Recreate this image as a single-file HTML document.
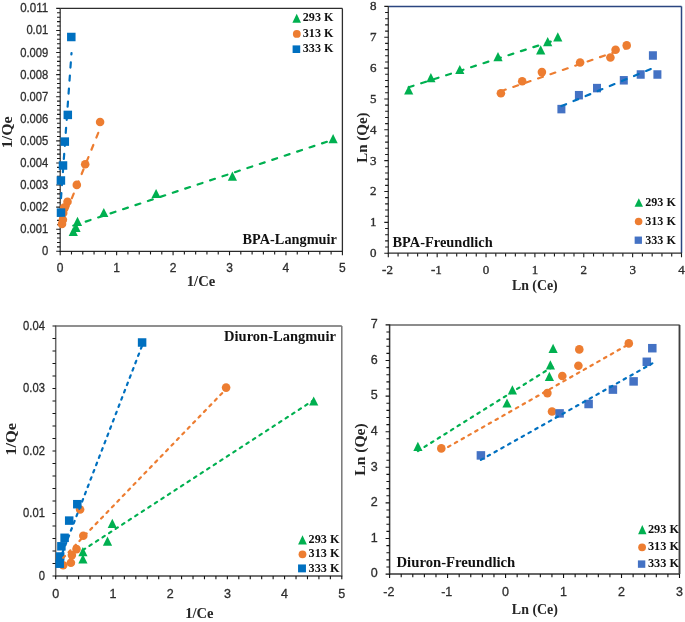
<!DOCTYPE html>
<html><head><meta charset="utf-8"><title>Isotherms</title>
<style>html,body{margin:0;padding:0;background:#fff;}svg{display:block;will-change:transform;}</style>
</head><body>
<svg width="685" height="622" viewBox="0 0 685 622">
<rect width="685" height="622" fill="#fff"/>
<line x1="60.2" y1="8.4" x2="342.4" y2="8.4" stroke="#2d2d2d" stroke-width="1.3"/>
<line x1="342.4" y1="8.4" x2="342.4" y2="251.3" stroke="#2d2d2d" stroke-width="1.3"/>
<line x1="60.2" y1="7.9" x2="60.2" y2="251.8" stroke="#3c3c3c" stroke-width="1.3"/>
<line x1="59.7" y1="251.3" x2="342.9" y2="251.3" stroke="#2a2a2a" stroke-width="1.3"/>
<path d="M60.2 251.3V254.5M71.49 251.3V254.5M82.78 251.3V254.5M94.06 251.3V254.5M105.35 251.3V254.5M116.64 251.3V254.5M127.93 251.3V254.5M139.22 251.3V254.5M150.5 251.3V254.5M161.79 251.3V254.5M173.08 251.3V254.5M184.37 251.3V254.5M195.66 251.3V254.5M206.94 251.3V254.5M218.23 251.3V254.5M229.52 251.3V254.5M240.81 251.3V254.5M252.1 251.3V254.5M263.38 251.3V254.5M274.67 251.3V254.5M285.96 251.3V254.5M297.25 251.3V254.5M308.54 251.3V254.5M319.82 251.3V254.5M331.11 251.3V254.5M342.4 251.3V254.5M60.2 251.3V255.3M116.64 251.3V255.3M173.08 251.3V255.3M229.52 251.3V255.3M285.96 251.3V255.3M342.4 251.3V255.3M60.2 251.3H57M60.2 246.88H57M60.2 242.47H57M60.2 238.05H57M60.2 233.63H57M60.2 229.22H57M60.2 224.8H57M60.2 220.39H57M60.2 215.97H57M60.2 211.55H57M60.2 207.14H57M60.2 202.72H57M60.2 198.3H57M60.2 193.89H57M60.2 189.47H57M60.2 185.05H57M60.2 180.64H57M60.2 176.22H57M60.2 171.81H57M60.2 167.39H57M60.2 162.97H57M60.2 158.56H57M60.2 154.14H57M60.2 149.72H57M60.2 145.31H57M60.2 140.89H57M60.2 136.47H57M60.2 132.06H57M60.2 127.64H57M60.2 123.23H57M60.2 118.81H57M60.2 114.39H57M60.2 109.98H57M60.2 105.56H57M60.2 101.14H57M60.2 96.73H57M60.2 92.31H57M60.2 87.89H57M60.2 83.48H57M60.2 79.06H57M60.2 74.65H57M60.2 70.23H57M60.2 65.81H57M60.2 61.4H57M60.2 56.98H57M60.2 52.56H57M60.2 48.15H57M60.2 43.73H57M60.2 39.31H57M60.2 34.9H57M60.2 30.48H57M60.2 26.07H57M60.2 21.65H57M60.2 17.23H57M60.2 12.82H57M60.2 8.4H57M60.2 251.3H56.2M60.2 229.22H56.2M60.2 207.14H56.2M60.2 185.05H56.2M60.2 162.97H56.2M60.2 140.89H56.2M60.2 118.81H56.2M60.2 96.73H56.2M60.2 74.65H56.2M60.2 52.56H56.2M60.2 30.48H56.2M60.2 8.4H56.2" stroke="#1a1a1a" stroke-width="1.1" fill="none"/>
<text x="48.2" y="255.3" font-family='"Liberation Sans", sans-serif' font-size="12.3" text-anchor="end" fill="#2e2e2e" textLength="6.24" lengthAdjust="spacingAndGlyphs" stroke="#2e2e2e" stroke-width="0.3">0</text>
<text x="48.2" y="233.22" font-family='"Liberation Sans", sans-serif' font-size="12.3" text-anchor="end" fill="#2e2e2e" textLength="28.04" lengthAdjust="spacingAndGlyphs" stroke="#2e2e2e" stroke-width="0.3">0.001</text>
<text x="48.2" y="211.14" font-family='"Liberation Sans", sans-serif' font-size="12.3" text-anchor="end" fill="#2e2e2e" textLength="28.04" lengthAdjust="spacingAndGlyphs" stroke="#2e2e2e" stroke-width="0.3">0.002</text>
<text x="48.2" y="189.05" font-family='"Liberation Sans", sans-serif' font-size="12.3" text-anchor="end" fill="#2e2e2e" textLength="28.04" lengthAdjust="spacingAndGlyphs" stroke="#2e2e2e" stroke-width="0.3">0.003</text>
<text x="48.2" y="166.97" font-family='"Liberation Sans", sans-serif' font-size="12.3" text-anchor="end" fill="#2e2e2e" textLength="28.04" lengthAdjust="spacingAndGlyphs" stroke="#2e2e2e" stroke-width="0.3">0.004</text>
<text x="48.2" y="144.89" font-family='"Liberation Sans", sans-serif' font-size="12.3" text-anchor="end" fill="#2e2e2e" textLength="28.04" lengthAdjust="spacingAndGlyphs" stroke="#2e2e2e" stroke-width="0.3">0.005</text>
<text x="48.2" y="122.81" font-family='"Liberation Sans", sans-serif' font-size="12.3" text-anchor="end" fill="#2e2e2e" textLength="28.04" lengthAdjust="spacingAndGlyphs" stroke="#2e2e2e" stroke-width="0.3">0.006</text>
<text x="48.2" y="100.73" font-family='"Liberation Sans", sans-serif' font-size="12.3" text-anchor="end" fill="#2e2e2e" textLength="28.04" lengthAdjust="spacingAndGlyphs" stroke="#2e2e2e" stroke-width="0.3">0.007</text>
<text x="48.2" y="78.65" font-family='"Liberation Sans", sans-serif' font-size="12.3" text-anchor="end" fill="#2e2e2e" textLength="28.04" lengthAdjust="spacingAndGlyphs" stroke="#2e2e2e" stroke-width="0.3">0.008</text>
<text x="48.2" y="56.56" font-family='"Liberation Sans", sans-serif' font-size="12.3" text-anchor="end" fill="#2e2e2e" textLength="28.04" lengthAdjust="spacingAndGlyphs" stroke="#2e2e2e" stroke-width="0.3">0.009</text>
<text x="48.2" y="34.48" font-family='"Liberation Sans", sans-serif' font-size="12.3" text-anchor="end" fill="#2e2e2e" textLength="21.81" lengthAdjust="spacingAndGlyphs" stroke="#2e2e2e" stroke-width="0.3">0.01</text>
<text x="48.2" y="12.4" font-family='"Liberation Sans", sans-serif' font-size="12.3" text-anchor="end" fill="#2e2e2e" textLength="28.04" lengthAdjust="spacingAndGlyphs" stroke="#2e2e2e" stroke-width="0.3">0.011</text>
<text x="60.2" y="272.2" font-family='"Liberation Sans", sans-serif' font-size="12" text-anchor="middle" fill="#2e2e2e" stroke="#2e2e2e" stroke-width="0.3">0</text>
<text x="116.64" y="272.2" font-family='"Liberation Sans", sans-serif' font-size="12" text-anchor="middle" fill="#2e2e2e" stroke="#2e2e2e" stroke-width="0.3">1</text>
<text x="173.08" y="272.2" font-family='"Liberation Sans", sans-serif' font-size="12" text-anchor="middle" fill="#2e2e2e" stroke="#2e2e2e" stroke-width="0.3">2</text>
<text x="229.52" y="272.2" font-family='"Liberation Sans", sans-serif' font-size="12" text-anchor="middle" fill="#2e2e2e" stroke="#2e2e2e" stroke-width="0.3">3</text>
<text x="285.96" y="272.2" font-family='"Liberation Sans", sans-serif' font-size="12" text-anchor="middle" fill="#2e2e2e" stroke="#2e2e2e" stroke-width="0.3">4</text>
<text x="342.4" y="272.2" font-family='"Liberation Sans", sans-serif' font-size="12" text-anchor="middle" fill="#2e2e2e" stroke="#2e2e2e" stroke-width="0.3">5</text>
<text x="201" y="286" font-family='"Liberation Serif", serif' font-size="14" font-weight="bold" text-anchor="middle" fill="#262626" textLength="28.4" lengthAdjust="spacingAndGlyphs">1/Ce</text>
<text x="11.8" y="132.3" font-family='"Liberation Serif", serif' font-size="14" font-weight="bold" text-anchor="middle" fill="#262626" textLength="31.8" lengthAdjust="spacingAndGlyphs" transform="rotate(-90 11.8 132.3)">1/Qe</text>
<path d="M73.3 226.7L77.9 235.9L68.7 235.9Z" fill="#00B050"/>
<path d="M76 222.7L80.6 231.9L71.4 231.9Z" fill="#00B050"/>
<path d="M77.5 216.8L82.1 226L72.9 226Z" fill="#00B050"/>
<path d="M103.8 207.9L108.4 217.1L99.2 217.1Z" fill="#00B050"/>
<path d="M156.1 188.9L160.7 198.1L151.5 198.1Z" fill="#00B050"/>
<path d="M232.4 171.5L237 180.7L227.8 180.7Z" fill="#00B050"/>
<path d="M333.1 134.1L337.7 143.3L328.5 143.3Z" fill="#00B050"/>
<circle cx="100.1" cy="122" r="4.3" fill="#ED7D31"/>
<circle cx="85.2" cy="164.2" r="4.3" fill="#ED7D31"/>
<circle cx="76.8" cy="184.9" r="4.3" fill="#ED7D31"/>
<circle cx="67.5" cy="201.7" r="4.3" fill="#ED7D31"/>
<circle cx="64.2" cy="207.5" r="4.3" fill="#ED7D31"/>
<circle cx="63.2" cy="213" r="4.3" fill="#ED7D31"/>
<circle cx="62.9" cy="219.7" r="4.3" fill="#ED7D31"/>
<circle cx="62" cy="223.9" r="4.3" fill="#ED7D31"/>
<rect x="67.05" y="32.75" width="8.5" height="8.5" fill="#0070C0"/>
<rect x="63.55" y="110.65" width="8.5" height="8.5" fill="#0070C0"/>
<rect x="60.55" y="137.35" width="8.5" height="8.5" fill="#0070C0"/>
<rect x="58.75" y="161.25" width="8.5" height="8.5" fill="#0070C0"/>
<rect x="56.65" y="176.25" width="8.5" height="8.5" fill="#0070C0"/>
<rect x="56.75" y="208.35" width="8.5" height="8.5" fill="#0070C0"/>
<line x1="73.3" y1="225.7" x2="333.1" y2="139.7" stroke="#00B050" stroke-width="2.2" stroke-dasharray="5.1 8.0" stroke-linecap="round"/>
<line x1="62" y1="222.6" x2="100.1" y2="128.3" stroke="#ED7D31" stroke-width="2.2" stroke-dasharray="5.1 8.0" stroke-linecap="round"/>
<line x1="61" y1="198.2" x2="71.5" y2="53" stroke="#0070C0" stroke-width="2.2" stroke-dasharray="5.1 8.0" stroke-linecap="round"/>
<path d="M296.7 13.7L301 22.7L292.4 22.7Z" fill="#00B050"/>
<circle cx="296.8" cy="33.9" r="3.9" fill="#ED7D31"/>
<rect x="292.6" y="45.4" width="7.6" height="7.6" fill="#0070C0"/>
<text x="302.8" y="21.4" font-family='"Liberation Serif", serif' font-size="12.6" font-weight="bold" fill="#111" textLength="30.6" lengthAdjust="spacingAndGlyphs">293 K</text>
<text x="302.8" y="36.9" font-family='"Liberation Serif", serif' font-size="12.6" font-weight="bold" fill="#111" textLength="30.6" lengthAdjust="spacingAndGlyphs">313 K</text>
<text x="302.8" y="52.4" font-family='"Liberation Serif", serif' font-size="12.6" font-weight="bold" fill="#111" textLength="30.6" lengthAdjust="spacingAndGlyphs">333 K</text>
<text x="242.6" y="244.1" font-family='"Liberation Serif", serif' font-size="14.3" font-weight="bold" fill="#111" textLength="94.2" lengthAdjust="spacingAndGlyphs">BPA-Langmuir</text>
<line x1="388.3" y1="6.4" x2="681.5" y2="6.4" stroke="#2B4580" stroke-width="1.5"/>
<line x1="681.5" y1="6.4" x2="681.5" y2="253.2" stroke="#2B4580" stroke-width="1.5"/>
<line x1="388.3" y1="5.9" x2="388.3" y2="253.7" stroke="#3c3c3c" stroke-width="1.3"/>
<line x1="387.8" y1="253.2" x2="682" y2="253.2" stroke="#2a2a2a" stroke-width="1.3"/>
<path d="M388.3 253.2V256.4M398.07 253.2V256.4M407.85 253.2V256.4M417.62 253.2V256.4M427.39 253.2V256.4M437.17 253.2V256.4M446.94 253.2V256.4M456.71 253.2V256.4M466.49 253.2V256.4M476.26 253.2V256.4M486.03 253.2V256.4M495.81 253.2V256.4M505.58 253.2V256.4M515.35 253.2V256.4M525.13 253.2V256.4M534.9 253.2V256.4M544.67 253.2V256.4M554.45 253.2V256.4M564.22 253.2V256.4M573.99 253.2V256.4M583.77 253.2V256.4M593.54 253.2V256.4M603.31 253.2V256.4M613.09 253.2V256.4M622.86 253.2V256.4M632.63 253.2V256.4M642.41 253.2V256.4M652.18 253.2V256.4M661.95 253.2V256.4M671.73 253.2V256.4M681.5 253.2V256.4M388.3 253.2V257.2M437.17 253.2V257.2M486.03 253.2V257.2M534.9 253.2V257.2M583.77 253.2V257.2M632.63 253.2V257.2M681.5 253.2V257.2M388.3 253.2H385.1M388.3 247.03H385.1M388.3 240.86H385.1M388.3 234.69H385.1M388.3 228.52H385.1M388.3 222.35H385.1M388.3 216.18H385.1M388.3 210.01H385.1M388.3 203.84H385.1M388.3 197.67H385.1M388.3 191.5H385.1M388.3 185.33H385.1M388.3 179.16H385.1M388.3 172.99H385.1M388.3 166.82H385.1M388.3 160.65H385.1M388.3 154.48H385.1M388.3 148.31H385.1M388.3 142.14H385.1M388.3 135.97H385.1M388.3 129.8H385.1M388.3 123.63H385.1M388.3 117.46H385.1M388.3 111.29H385.1M388.3 105.12H385.1M388.3 98.95H385.1M388.3 92.78H385.1M388.3 86.61H385.1M388.3 80.44H385.1M388.3 74.27H385.1M388.3 68.1H385.1M388.3 61.93H385.1M388.3 55.76H385.1M388.3 49.59H385.1M388.3 43.42H385.1M388.3 37.25H385.1M388.3 31.08H385.1M388.3 24.91H385.1M388.3 18.74H385.1M388.3 12.57H385.1M388.3 6.4H385.1M388.3 253.2H384.3M388.3 222.35H384.3M388.3 191.5H384.3M388.3 160.65H384.3M388.3 129.8H384.3M388.3 98.95H384.3M388.3 68.1H384.3M388.3 37.25H384.3M388.3 6.4H384.3" stroke="#1a1a1a" stroke-width="1.1" fill="none"/>
<text x="376.6" y="257.1" font-family='"Liberation Serif", serif' font-size="13" text-anchor="end" fill="#2e2e2e" stroke="#2e2e2e" stroke-width="0.35">0</text>
<text x="376.6" y="226.25" font-family='"Liberation Serif", serif' font-size="13" text-anchor="end" fill="#2e2e2e" stroke="#2e2e2e" stroke-width="0.35">1</text>
<text x="376.6" y="195.4" font-family='"Liberation Serif", serif' font-size="13" text-anchor="end" fill="#2e2e2e" stroke="#2e2e2e" stroke-width="0.35">2</text>
<text x="376.6" y="164.55" font-family='"Liberation Serif", serif' font-size="13" text-anchor="end" fill="#2e2e2e" stroke="#2e2e2e" stroke-width="0.35">3</text>
<text x="376.6" y="133.7" font-family='"Liberation Serif", serif' font-size="13" text-anchor="end" fill="#2e2e2e" stroke="#2e2e2e" stroke-width="0.35">4</text>
<text x="376.6" y="102.85" font-family='"Liberation Serif", serif' font-size="13" text-anchor="end" fill="#2e2e2e" stroke="#2e2e2e" stroke-width="0.35">5</text>
<text x="376.6" y="72" font-family='"Liberation Serif", serif' font-size="13" text-anchor="end" fill="#2e2e2e" stroke="#2e2e2e" stroke-width="0.35">6</text>
<text x="376.6" y="41.15" font-family='"Liberation Serif", serif' font-size="13" text-anchor="end" fill="#2e2e2e" stroke="#2e2e2e" stroke-width="0.35">7</text>
<text x="376.6" y="10.3" font-family='"Liberation Serif", serif' font-size="13" text-anchor="end" fill="#2e2e2e" stroke="#2e2e2e" stroke-width="0.35">8</text>
<text x="387.5" y="274.4" font-family='"Liberation Serif", serif' font-size="13" text-anchor="middle" fill="#2e2e2e" stroke="#2e2e2e" stroke-width="0.35">-2</text>
<text x="436.37" y="274.4" font-family='"Liberation Serif", serif' font-size="13" text-anchor="middle" fill="#2e2e2e" stroke="#2e2e2e" stroke-width="0.35">-1</text>
<text x="486.03" y="274.4" font-family='"Liberation Serif", serif' font-size="13" text-anchor="middle" fill="#2e2e2e" stroke="#2e2e2e" stroke-width="0.35">0</text>
<text x="534.9" y="274.4" font-family='"Liberation Serif", serif' font-size="13" text-anchor="middle" fill="#2e2e2e" stroke="#2e2e2e" stroke-width="0.35">1</text>
<text x="583.77" y="274.4" font-family='"Liberation Serif", serif' font-size="13" text-anchor="middle" fill="#2e2e2e" stroke="#2e2e2e" stroke-width="0.35">2</text>
<text x="632.63" y="274.4" font-family='"Liberation Serif", serif' font-size="13" text-anchor="middle" fill="#2e2e2e" stroke="#2e2e2e" stroke-width="0.35">3</text>
<text x="681.5" y="274.4" font-family='"Liberation Serif", serif' font-size="13" text-anchor="middle" fill="#2e2e2e" stroke="#2e2e2e" stroke-width="0.35">4</text>
<text x="534.8" y="290" font-family='"Liberation Serif", serif' font-size="14" font-weight="bold" text-anchor="middle" fill="#262626" textLength="45.8" lengthAdjust="spacingAndGlyphs">Ln (Ce)</text>
<text x="366.7" y="137.6" font-family='"Liberation Serif", serif' font-size="14" font-weight="bold" text-anchor="middle" fill="#262626" textLength="50.2" lengthAdjust="spacingAndGlyphs" transform="rotate(-90 366.7 137.6)">Ln (Qe)</text>
<path d="M408.7 85.4L413.3 94.6L404.1 94.6Z" fill="#00B050"/>
<path d="M430.9 73L435.5 82.2L426.3 82.2Z" fill="#00B050"/>
<path d="M459.8 64.9L464.4 74.1L455.2 74.1Z" fill="#00B050"/>
<path d="M498 52L502.6 61.2L493.4 61.2Z" fill="#00B050"/>
<path d="M540.7 45.2L545.3 54.4L536.1 54.4Z" fill="#00B050"/>
<path d="M547.7 37.1L552.3 46.3L543.1 46.3Z" fill="#00B050"/>
<path d="M557.8 32.2L562.4 41.4L553.2 41.4Z" fill="#00B050"/>
<circle cx="500.9" cy="93.2" r="4.3" fill="#ED7D31"/>
<circle cx="522.2" cy="81.3" r="4.3" fill="#ED7D31"/>
<circle cx="541.9" cy="72.1" r="4.3" fill="#ED7D31"/>
<circle cx="580.1" cy="62.5" r="4.3" fill="#ED7D31"/>
<circle cx="610.4" cy="57.5" r="4.3" fill="#ED7D31"/>
<circle cx="615.6" cy="49.8" r="4.3" fill="#ED7D31"/>
<circle cx="626.7" cy="45.4" r="4.3" fill="#ED7D31"/>
<rect x="557.4" y="104.85" width="8" height="8.5" fill="#4472C4"/>
<rect x="574.9" y="90.95" width="8" height="8.5" fill="#4472C4"/>
<rect x="593" y="83.85" width="8" height="8.5" fill="#4472C4"/>
<rect x="619.8" y="76.05" width="8" height="8.5" fill="#4472C4"/>
<rect x="636.7" y="70.25" width="8" height="8.5" fill="#4472C4"/>
<rect x="648.9" y="51.25" width="8" height="8.5" fill="#4472C4"/>
<rect x="653.4" y="70.25" width="8" height="8.5" fill="#4472C4"/>
<line x1="408.7" y1="87.3" x2="557.8" y2="39.3" stroke="#00B050" stroke-width="2.2" stroke-dasharray="5.1 8.0" stroke-linecap="round"/>
<line x1="500.9" y1="91.2" x2="626.7" y2="48" stroke="#ED7D31" stroke-width="2.2" stroke-dasharray="5.1 8.0" stroke-linecap="round"/>
<line x1="561.4" y1="106.1" x2="657.4" y2="66.3" stroke="#0070C0" stroke-width="2.2" stroke-dasharray="5.1 8.0" stroke-linecap="round"/>
<path d="M638.8 198.35L643 206.85L634.6 206.85Z" fill="#00B050"/>
<circle cx="638.6" cy="221.5" r="3.8" fill="#ED7D31"/>
<rect x="634.65" y="236.55" width="7.3" height="7.3" fill="#4472C4"/>
<text x="645.2" y="206.1" font-family='"Liberation Serif", serif' font-size="12.6" font-weight="bold" fill="#111" textLength="30.7" lengthAdjust="spacingAndGlyphs">293 K</text>
<text x="645.2" y="224.9" font-family='"Liberation Serif", serif' font-size="12.6" font-weight="bold" fill="#111" textLength="30.7" lengthAdjust="spacingAndGlyphs">313 K</text>
<text x="645.2" y="243.7" font-family='"Liberation Serif", serif' font-size="12.6" font-weight="bold" fill="#111" textLength="30.7" lengthAdjust="spacingAndGlyphs">333 K</text>
<text x="392.5" y="246.9" font-family='"Liberation Serif", serif' font-size="14" font-weight="bold" fill="#111" textLength="100.2" lengthAdjust="spacingAndGlyphs">BPA-Freundlich</text>
<line x1="55.7" y1="326" x2="341.8" y2="326" stroke="#6a6a6a" stroke-width="1.5"/>
<line x1="341.8" y1="326" x2="341.8" y2="576" stroke="#777777" stroke-width="1.5"/>
<line x1="55.7" y1="325.5" x2="55.7" y2="576.5" stroke="#666666" stroke-width="1.5"/>
<line x1="55.2" y1="576" x2="342.3" y2="576" stroke="#444444" stroke-width="1.5"/>
<path d="M55.7 576V579.2M67.14 576V579.2M78.59 576V579.2M90.03 576V579.2M101.48 576V579.2M112.92 576V579.2M124.36 576V579.2M135.81 576V579.2M147.25 576V579.2M158.7 576V579.2M170.14 576V579.2M181.58 576V579.2M193.03 576V579.2M204.47 576V579.2M215.92 576V579.2M227.36 576V579.2M238.8 576V579.2M250.25 576V579.2M261.69 576V579.2M273.14 576V579.2M284.58 576V579.2M296.02 576V579.2M307.47 576V579.2M318.91 576V579.2M330.36 576V579.2M341.8 576V579.2M55.7 576V579.2M112.92 576V579.2M170.14 576V579.2M227.36 576V579.2M284.58 576V579.2M341.8 576V579.2M55.7 576H52.5M55.7 563.5H52.5M55.7 551H52.5M55.7 538.5H52.5M55.7 526H52.5M55.7 513.5H52.5M55.7 501H52.5M55.7 488.5H52.5M55.7 476H52.5M55.7 463.5H52.5M55.7 451H52.5M55.7 438.5H52.5M55.7 426H52.5M55.7 413.5H52.5M55.7 401H52.5M55.7 388.5H52.5M55.7 376H52.5M55.7 363.5H52.5M55.7 351H52.5M55.7 338.5H52.5M55.7 326H52.5M55.7 576H52.5M55.7 513.5H52.5M55.7 451H52.5M55.7 388.5H52.5M55.7 326H52.5" stroke="#111" stroke-width="1.1" fill="none"/>
<text x="44.9" y="579.9" font-family='"Liberation Sans", sans-serif' font-size="13.2" text-anchor="end" fill="#2a2a2a" textLength="6.24" lengthAdjust="spacingAndGlyphs" stroke="#2a2a2a" stroke-width="0.3">0</text>
<text x="44.9" y="517.4" font-family='"Liberation Sans", sans-serif' font-size="13.2" text-anchor="end" fill="#2a2a2a" textLength="21.81" lengthAdjust="spacingAndGlyphs" stroke="#2a2a2a" stroke-width="0.3">0.01</text>
<text x="44.9" y="454.9" font-family='"Liberation Sans", sans-serif' font-size="13.2" text-anchor="end" fill="#2a2a2a" textLength="21.81" lengthAdjust="spacingAndGlyphs" stroke="#2a2a2a" stroke-width="0.3">0.02</text>
<text x="44.9" y="392.4" font-family='"Liberation Sans", sans-serif' font-size="13.2" text-anchor="end" fill="#2a2a2a" textLength="21.81" lengthAdjust="spacingAndGlyphs" stroke="#2a2a2a" stroke-width="0.3">0.03</text>
<text x="44.9" y="329.9" font-family='"Liberation Sans", sans-serif' font-size="13.2" text-anchor="end" fill="#2a2a2a" textLength="21.81" lengthAdjust="spacingAndGlyphs" stroke="#2a2a2a" stroke-width="0.3">0.04</text>
<text x="55.7" y="598.2" font-family='"Liberation Sans", sans-serif' font-size="12.5" text-anchor="middle" fill="#2e2e2e" stroke="#2e2e2e" stroke-width="0.3">0</text>
<text x="112.92" y="598.2" font-family='"Liberation Sans", sans-serif' font-size="12.5" text-anchor="middle" fill="#2e2e2e" stroke="#2e2e2e" stroke-width="0.3">1</text>
<text x="170.14" y="598.2" font-family='"Liberation Sans", sans-serif' font-size="12.5" text-anchor="middle" fill="#2e2e2e" stroke="#2e2e2e" stroke-width="0.3">2</text>
<text x="227.36" y="598.2" font-family='"Liberation Sans", sans-serif' font-size="12.5" text-anchor="middle" fill="#2e2e2e" stroke="#2e2e2e" stroke-width="0.3">3</text>
<text x="284.58" y="598.2" font-family='"Liberation Sans", sans-serif' font-size="12.5" text-anchor="middle" fill="#2e2e2e" stroke="#2e2e2e" stroke-width="0.3">4</text>
<text x="341.8" y="598.2" font-family='"Liberation Sans", sans-serif' font-size="12.5" text-anchor="middle" fill="#2e2e2e" stroke="#2e2e2e" stroke-width="0.3">5</text>
<text x="199.3" y="617.7" font-family='"Liberation Serif", serif' font-size="14" font-weight="bold" text-anchor="middle" fill="#262626" textLength="28.3" lengthAdjust="spacingAndGlyphs">1/Ce</text>
<text x="15.6" y="439.3" font-family='"Liberation Serif", serif' font-size="14" font-weight="bold" text-anchor="middle" fill="#262626" textLength="32.6" lengthAdjust="spacingAndGlyphs" transform="rotate(-90 15.6 439.3)">1/Qe</text>
<path d="M82.9 547.1L87.5 556.3L78.3 556.3Z" fill="#00B050"/>
<path d="M82.9 554.2L87.5 563.4L78.3 563.4Z" fill="#00B050"/>
<path d="M107.5 536.6L112.1 545.8L102.9 545.8Z" fill="#00B050"/>
<path d="M112.3 518.8L116.9 528L107.7 528Z" fill="#00B050"/>
<path d="M313.7 396.4L318.3 405.6L309.1 405.6Z" fill="#00B050"/>
<circle cx="80.1" cy="509.5" r="4.3" fill="#ED7D31"/>
<circle cx="83.3" cy="535.8" r="4.3" fill="#ED7D31"/>
<circle cx="76.5" cy="549.1" r="4.3" fill="#ED7D31"/>
<circle cx="71.9" cy="555.1" r="4.3" fill="#ED7D31"/>
<circle cx="70.9" cy="562.8" r="4.3" fill="#ED7D31"/>
<circle cx="63.2" cy="565.2" r="4.3" fill="#ED7D31"/>
<circle cx="226.1" cy="387.6" r="4.3" fill="#ED7D31"/>
<rect x="137.85" y="338.25" width="8.5" height="8.5" fill="#0070C0"/>
<rect x="73.05" y="499.95" width="8.5" height="8.5" fill="#0070C0"/>
<rect x="64.95" y="516.35" width="8.5" height="8.5" fill="#0070C0"/>
<rect x="60.35" y="533.55" width="8.5" height="8.5" fill="#0070C0"/>
<rect x="57.15" y="542.05" width="8.5" height="8.5" fill="#0070C0"/>
<rect x="55.95" y="552.25" width="8.5" height="8.5" fill="#0070C0"/>
<rect x="55.45" y="559.45" width="8.5" height="8.5" fill="#0070C0"/>
<line x1="82.9" y1="550.1" x2="313.7" y2="400.1" stroke="#00B050" stroke-width="2.2" stroke-dasharray="2.6 5.2" stroke-linecap="round"/>
<line x1="63.2" y1="557.8" x2="226.1" y2="389" stroke="#ED7D31" stroke-width="2.2" stroke-dasharray="2.6 5.2" stroke-linecap="round"/>
<line x1="59.7" y1="559.8" x2="142.1" y2="345.6" stroke="#0070C0" stroke-width="2.2" stroke-dasharray="2.6 5.2" stroke-linecap="round"/>
<path d="M302.5 535.2L306.9 544.6L298.1 544.6Z" fill="#00B050"/>
<circle cx="302.5" cy="554.3" r="3.9" fill="#ED7D31"/>
<rect x="298.05" y="564.45" width="7.9" height="7.9" fill="#0070C0"/>
<text x="308.6" y="543" font-family='"Liberation Serif", serif' font-size="13.2" font-weight="bold" fill="#111" textLength="30.8" lengthAdjust="spacingAndGlyphs">293 K</text>
<text x="308.6" y="557.3" font-family='"Liberation Serif", serif' font-size="13.2" font-weight="bold" fill="#111" textLength="30.8" lengthAdjust="spacingAndGlyphs">313 K</text>
<text x="308.6" y="571.6" font-family='"Liberation Serif", serif' font-size="13.2" font-weight="bold" fill="#111" textLength="30.8" lengthAdjust="spacingAndGlyphs">333 K</text>
<text x="224.1" y="340.9" font-family='"Liberation Serif", serif' font-size="13.8" font-weight="bold" fill="#111" textLength="111.8" lengthAdjust="spacingAndGlyphs">Diuron-Langmuir</text>
<line x1="389.6" y1="324.9" x2="679.5" y2="324.9" stroke="#666666" stroke-width="1.5"/>
<line x1="679.5" y1="324.9" x2="679.5" y2="574.1" stroke="#404040" stroke-width="1.5"/>
<line x1="389.6" y1="324.4" x2="389.6" y2="574.6" stroke="#333333" stroke-width="1.5"/>
<line x1="389.1" y1="574.1" x2="680" y2="574.1" stroke="#333333" stroke-width="1.5"/>
<path d="M389.6 574.1V577.3M401.2 574.1V577.3M412.79 574.1V577.3M424.39 574.1V577.3M435.98 574.1V577.3M447.58 574.1V577.3M459.18 574.1V577.3M470.77 574.1V577.3M482.37 574.1V577.3M493.96 574.1V577.3M505.56 574.1V577.3M517.16 574.1V577.3M528.75 574.1V577.3M540.35 574.1V577.3M551.94 574.1V577.3M563.54 574.1V577.3M575.14 574.1V577.3M586.73 574.1V577.3M598.33 574.1V577.3M609.92 574.1V577.3M621.52 574.1V577.3M633.12 574.1V577.3M644.71 574.1V577.3M656.31 574.1V577.3M667.9 574.1V577.3M679.5 574.1V577.3M389.6 574.1V578.1M447.58 574.1V578.1M505.56 574.1V578.1M563.54 574.1V578.1M621.52 574.1V578.1M679.5 574.1V578.1M389.6 574.1H386.4M389.6 566.98H386.4M389.6 559.86H386.4M389.6 552.74H386.4M389.6 545.62H386.4M389.6 538.5H386.4M389.6 531.38H386.4M389.6 524.26H386.4M389.6 517.14H386.4M389.6 510.02H386.4M389.6 502.9H386.4M389.6 495.78H386.4M389.6 488.66H386.4M389.6 481.54H386.4M389.6 474.42H386.4M389.6 467.3H386.4M389.6 460.18H386.4M389.6 453.06H386.4M389.6 445.94H386.4M389.6 438.82H386.4M389.6 431.7H386.4M389.6 424.58H386.4M389.6 417.46H386.4M389.6 410.34H386.4M389.6 403.22H386.4M389.6 396.1H386.4M389.6 388.98H386.4M389.6 381.86H386.4M389.6 374.74H386.4M389.6 367.62H386.4M389.6 360.5H386.4M389.6 353.38H386.4M389.6 346.26H386.4M389.6 339.14H386.4M389.6 332.02H386.4M389.6 324.9H386.4M389.6 574.1H385.6M389.6 538.5H385.6M389.6 502.9H385.6M389.6 467.3H385.6M389.6 431.7H385.6M389.6 396.1H385.6M389.6 360.5H385.6M389.6 324.9H385.6" stroke="#111" stroke-width="1.1" fill="none"/>
<text x="377.6" y="577.3" font-family='"Liberation Sans", sans-serif' font-size="12.5" text-anchor="end" fill="#2e2e2e" stroke="#2e2e2e" stroke-width="0.3">0</text>
<text x="377.6" y="541.7" font-family='"Liberation Sans", sans-serif' font-size="12.5" text-anchor="end" fill="#2e2e2e" stroke="#2e2e2e" stroke-width="0.3">1</text>
<text x="377.6" y="506.1" font-family='"Liberation Sans", sans-serif' font-size="12.5" text-anchor="end" fill="#2e2e2e" stroke="#2e2e2e" stroke-width="0.3">2</text>
<text x="377.6" y="470.5" font-family='"Liberation Sans", sans-serif' font-size="12.5" text-anchor="end" fill="#2e2e2e" stroke="#2e2e2e" stroke-width="0.3">3</text>
<text x="377.6" y="434.9" font-family='"Liberation Sans", sans-serif' font-size="12.5" text-anchor="end" fill="#2e2e2e" stroke="#2e2e2e" stroke-width="0.3">4</text>
<text x="377.6" y="399.3" font-family='"Liberation Sans", sans-serif' font-size="12.5" text-anchor="end" fill="#2e2e2e" stroke="#2e2e2e" stroke-width="0.3">5</text>
<text x="377.6" y="363.7" font-family='"Liberation Sans", sans-serif' font-size="12.5" text-anchor="end" fill="#2e2e2e" stroke="#2e2e2e" stroke-width="0.3">6</text>
<text x="377.6" y="328.1" font-family='"Liberation Sans", sans-serif' font-size="12.5" text-anchor="end" fill="#2e2e2e" stroke="#2e2e2e" stroke-width="0.3">7</text>
<text x="388.8" y="596.3" font-family='"Liberation Sans", sans-serif' font-size="12.5" text-anchor="middle" fill="#2e2e2e" stroke="#2e2e2e" stroke-width="0.3">-2</text>
<text x="446.78" y="596.3" font-family='"Liberation Sans", sans-serif' font-size="12.5" text-anchor="middle" fill="#2e2e2e" stroke="#2e2e2e" stroke-width="0.3">-1</text>
<text x="505.56" y="596.3" font-family='"Liberation Sans", sans-serif' font-size="12.5" text-anchor="middle" fill="#2e2e2e" stroke="#2e2e2e" stroke-width="0.3">0</text>
<text x="563.54" y="596.3" font-family='"Liberation Sans", sans-serif' font-size="12.5" text-anchor="middle" fill="#2e2e2e" stroke="#2e2e2e" stroke-width="0.3">1</text>
<text x="621.52" y="596.3" font-family='"Liberation Sans", sans-serif' font-size="12.5" text-anchor="middle" fill="#2e2e2e" stroke="#2e2e2e" stroke-width="0.3">2</text>
<text x="679.5" y="596.3" font-family='"Liberation Sans", sans-serif' font-size="12.5" text-anchor="middle" fill="#2e2e2e" stroke="#2e2e2e" stroke-width="0.3">3</text>
<text x="534.9" y="613.6" font-family='"Liberation Serif", serif' font-size="14" font-weight="bold" text-anchor="middle" fill="#262626" textLength="46.1" lengthAdjust="spacingAndGlyphs">Ln (Ce)</text>
<text x="365.2" y="449.5" font-family='"Liberation Serif", serif' font-size="14" font-weight="bold" text-anchor="middle" fill="#262626" textLength="52.6" lengthAdjust="spacingAndGlyphs" transform="rotate(-90 365.2 449.5)">Ln (Qe)</text>
<path d="M417.9 441.7L422.5 450.9L413.3 450.9Z" fill="#00B050"/>
<path d="M507 398.4L511.6 407.6L502.4 407.6Z" fill="#00B050"/>
<path d="M512.4 385.3L517 394.5L507.8 394.5Z" fill="#00B050"/>
<path d="M549.4 371.8L554 381L544.8 381Z" fill="#00B050"/>
<path d="M550.4 360.3L555 369.5L545.8 369.5Z" fill="#00B050"/>
<path d="M553.1 343.8L557.7 353L548.5 353Z" fill="#00B050"/>
<circle cx="441.3" cy="448.4" r="4.3" fill="#ED7D31"/>
<circle cx="547.4" cy="393.1" r="4.3" fill="#ED7D31"/>
<circle cx="552" cy="411.5" r="4.3" fill="#ED7D31"/>
<circle cx="562.3" cy="376" r="4.3" fill="#ED7D31"/>
<circle cx="578.4" cy="365.8" r="4.3" fill="#ED7D31"/>
<circle cx="579.3" cy="349.4" r="4.3" fill="#ED7D31"/>
<circle cx="628.8" cy="343.4" r="4.3" fill="#ED7D31"/>
<rect x="476.65" y="451.15" width="8.5" height="8.5" fill="#4472C4"/>
<rect x="555.35" y="409.15" width="8.5" height="8.5" fill="#4472C4"/>
<rect x="584.35" y="399.75" width="8.5" height="8.5" fill="#4472C4"/>
<rect x="608.65" y="385.35" width="8.5" height="8.5" fill="#4472C4"/>
<rect x="629.35" y="377.15" width="8.5" height="8.5" fill="#4472C4"/>
<rect x="642.55" y="357.55" width="8.5" height="8.5" fill="#4472C4"/>
<rect x="648.05" y="343.95" width="8.5" height="8.5" fill="#4472C4"/>
<line x1="417.9" y1="451" x2="553.1" y2="366.4" stroke="#00B050" stroke-width="2.2" stroke-dasharray="2.6 5.2" stroke-linecap="round"/>
<line x1="441.3" y1="450.8" x2="628.8" y2="344.2" stroke="#ED7D31" stroke-width="2.2" stroke-dasharray="2.6 5.2" stroke-linecap="round"/>
<line x1="480.9" y1="459.9" x2="652.3" y2="363.4" stroke="#0070C0" stroke-width="2.2" stroke-dasharray="2.6 5.2" stroke-linecap="round"/>
<path d="M642.3 525L646.5 534.2L638.1 534.2Z" fill="#00B050"/>
<circle cx="642.1" cy="547.3" r="3.9" fill="#ED7D31"/>
<rect x="637.9" y="560.4" width="7.4" height="7.4" fill="#4472C4"/>
<clipPath id="c4"><rect x="600" y="500" width="79" height="80"/></clipPath>
<g clip-path="url(#c4)">
<text x="647.9" y="532.9" font-family='"Liberation Serif", serif' font-size="13.2" font-weight="bold" fill="#111" textLength="31.2" lengthAdjust="spacingAndGlyphs">293 K</text>
<text x="647.9" y="549.9" font-family='"Liberation Serif", serif' font-size="13.2" font-weight="bold" fill="#111" textLength="31.2" lengthAdjust="spacingAndGlyphs">313 K</text>
<text x="647.9" y="567.1" font-family='"Liberation Serif", serif' font-size="13.2" font-weight="bold" fill="#111" textLength="31.2" lengthAdjust="spacingAndGlyphs">333 K</text>
</g>
<line x1="679.5" y1="324.9" x2="679.5" y2="574.1" stroke="#404040" stroke-width="1.5"/>
<text x="396.5" y="567.1" font-family='"Liberation Serif", serif' font-size="14" font-weight="bold" fill="#111" textLength="118.8" lengthAdjust="spacingAndGlyphs">Diuron-Freundlich</text>
</svg>
</body></html>
